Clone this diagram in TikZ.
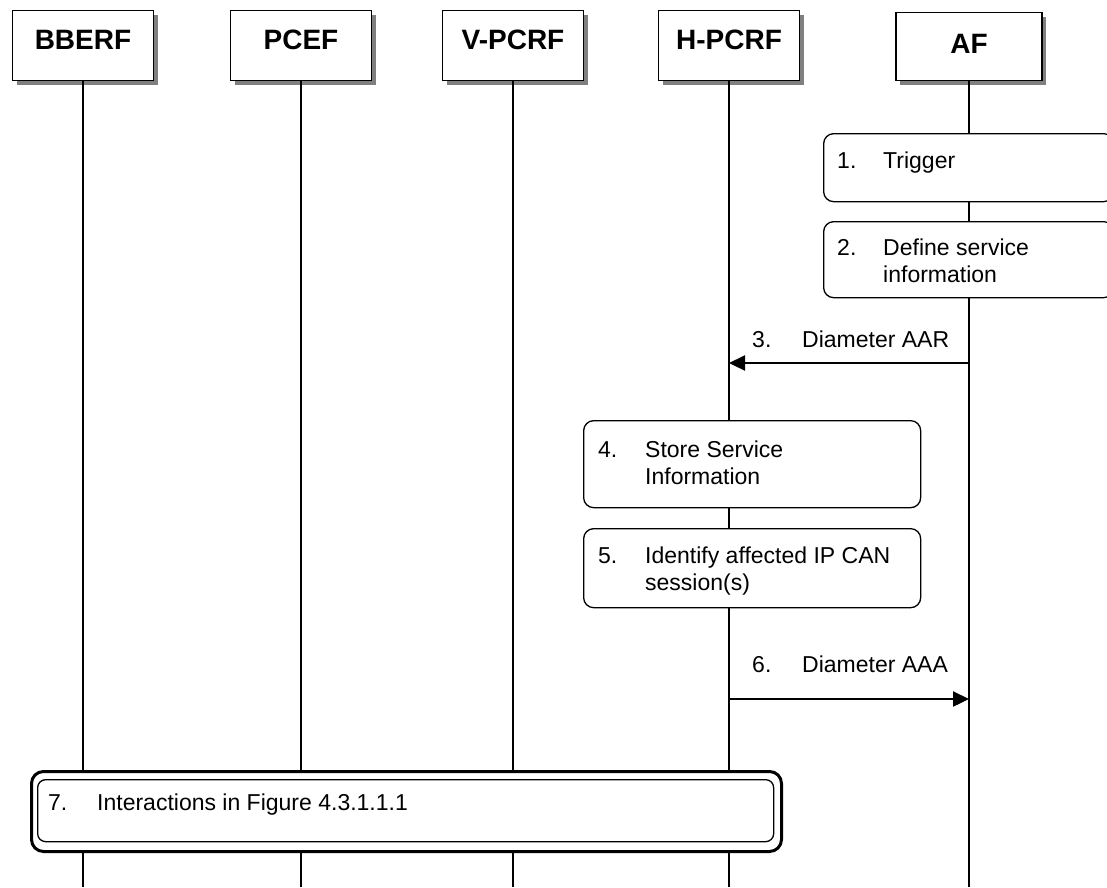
\documentclass[tikz,border=0pt]{standalone}
\usepackage{fontspec}
\setmainfont{Liberation Sans}
\usetikzlibrary{arrows.meta,shadows}
\begin{document}
\begin{tikzpicture}[x=1pt,y=-1pt,
  hdrbox/.style={draw, line width=1.3pt, fill=white, inner sep=0pt, anchor=north,
    minimum width=141pt, minimum height=70pt,
    drop shadow={shadow xshift=4pt, shadow yshift=-4pt, fill=black!50, opacity=1}},
  hdrtxt/.style={anchor=base, inner sep=0pt, font=\fontsize{28}{32}\selectfont\bfseries},
  life/.style={line width=1.2pt},
  stepbox/.style={draw, line width=1.3pt, fill=white, rounded corners=10pt, inner sep=0pt,
    anchor=north west},
  txt/.style={anchor=base west, inner sep=0pt, font=\fontsize{23}{27}\selectfont},
  msg/.style={line width=2.3pt, -{Triangle[length=16pt,width=15pt]}},
]
\useasboundingbox (0,0) rectangle (1107,887);

% header boxes
\node[hdrbox] (bberf) at (83,10) {};
\node[hdrbox] (pcef) at (301,10) {};
\node[hdrbox] (vpcrf) at (513,10) {};
\node[hdrbox] (hpcrf) at (729,10) {};
\node[hdrbox, minimum width=146pt, minimum height=68pt] (af) at (969,12) {};
\node[hdrtxt] (bberft) at (83,49) {BBERF};
\node[hdrtxt] (pceft) at (301,49) {PCEF};
\node[hdrtxt] (vpcrft) at (513,49) {V-PCRF};
\node[hdrtxt] (hpcrft) at (729,49) {H-PCRF};
\node[hdrtxt] (aft) at (969,53) {AF};

% lifeline ends
\coordinate (bberfe) at (83,887);
\coordinate (pcefe) at (301,887);
\coordinate (vpcrfe) at (513,887);
\coordinate (hpcrfe) at (729,887);
\coordinate (afe) at (969,887);
\draw[life] (bberf.south) -- (bberfe);
\draw[life] (pcef.south) -- (pcefe);
\draw[life] (vpcrf.south) -- (vpcrfe);
\draw[life] (hpcrf.south) -- (hpcrfe);
\draw[life] (af.south) -- (afe);

% step 1
\node[stepbox, minimum width=290pt, minimum height=68pt] (s1) at (823,133) {};
\node[txt] (s1n) at (837,168) {1.};
\node[txt] (s1t) at (883,168) {Trigger};
% step 2
\node[stepbox, minimum width=290pt, minimum height=76pt] (s2) at (823,221) {};
\node[txt] (s2n) at (837,255) {2.};
\node[txt] (s2t) at (883,255) {Define service};
\node[txt] (s2u) at (883,282) {information};

% message 3
\coordinate (m3a) at (969,363);
\coordinate (m3b) at (729,363);
\draw[msg] (m3a) -- (m3b);
\node[txt] (m3n) at (752,347) {3.};
\node[txt] (m3t) at (802,347) {Diameter AAR};

% step 4
\node[stepbox, minimum width=337pt, minimum height=87pt] (s4) at (583,420) {};
\node[txt] (s4n) at (598,457) {4.};
\node[txt] (s4t) at (645,457) {Store Service};
\node[txt] (s4u) at (645,484) {Information};
% step 5
\node[stepbox, minimum width=337pt, minimum height=79pt] (s5) at (583,528) {};
\node[txt] (s5n) at (598,563) {5.};
\node[txt] (s5t) at (645,563) {Identify affected IP CAN};
\node[txt] (s5u) at (645,590) {session(s)};

% message 6
\coordinate (m6a) at (729,699);
\coordinate (m6b) at (969,699);
\draw[msg] (m6a) -- (m6b);
\node[txt] (m6n) at (752,672) {6.};
\node[txt] (m6t) at (802,672) {Diameter AAA};

% step 7 (double border)
\node[stepbox, line width=3pt, rounded corners=12pt, minimum width=750pt, minimum height=80pt] (s7) at (30,770) {};
\node[stepbox, rounded corners=8pt, minimum width=736pt, minimum height=62pt] (s7in) at (37,779) {};
\node[txt] (s7n) at (48,810) {7.};
\node[txt] (s7t) at (97,810) {Interactions in Figure 4.3.1.1.1};
\end{tikzpicture}
\end{document}
